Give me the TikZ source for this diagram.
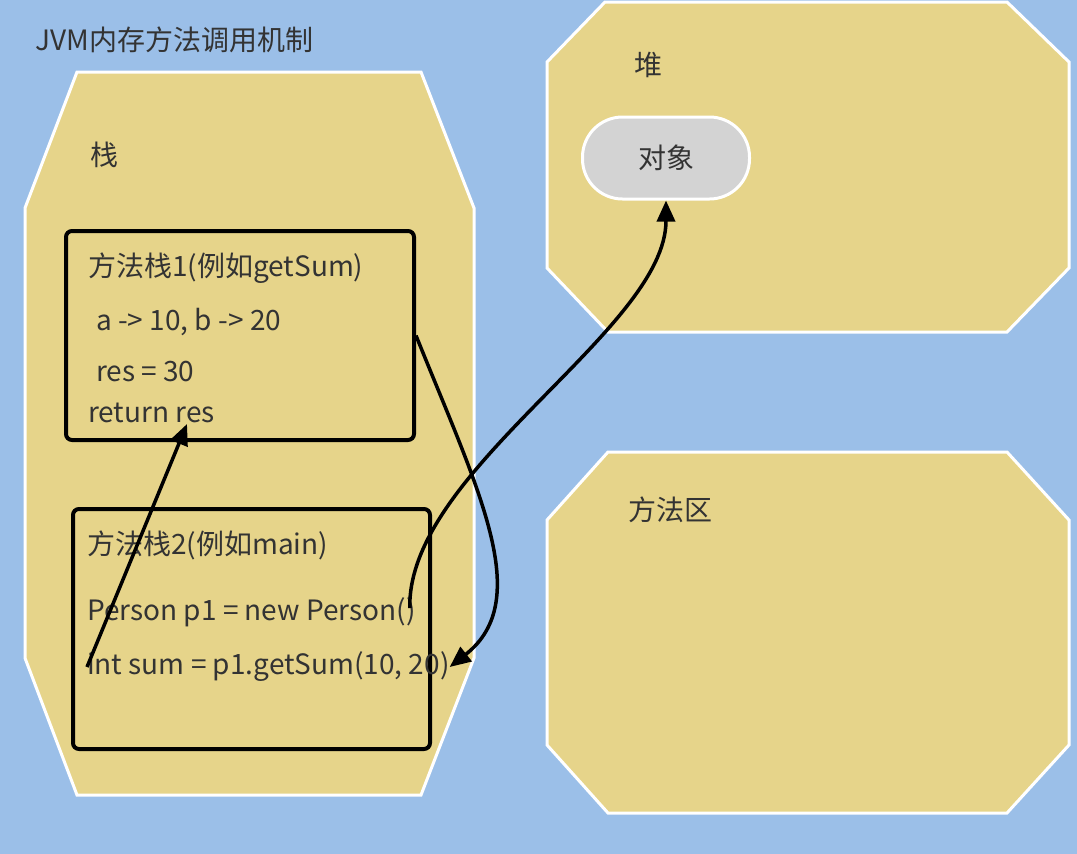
\documentclass[tikz,border=0pt]{standalone}
\usepackage{fontspec}
\newfontfamily\cjk{Noto Sans CJK SC}
\usetikzlibrary{arrows.meta}
\definecolor{bgblue}{RGB}{155,191,232}
\definecolor{areayellow}{RGB}{230,212,138}
\definecolor{objgray}{RGB}{211,211,211}
\definecolor{inkgray}{RGB}{51,51,51}

\begin{document}
\begin{tikzpicture}[x=1pt,y=-1pt,
  area/.style={fill=areayellow,draw=white,line width=3pt,line join=miter},
  frame/.style={draw=black,line width=4pt,rounded corners=6pt,anchor=north west},
  pill/.style={fill=objgray,draw=white,line width=3pt,rounded corners=40pt,
               minimum width=167pt,minimum height=82pt},
  txt/.style={font=\cjk\fontsize{28}{32}\selectfont,text=inkgray,inner sep=0pt,anchor=west},
  call/.style={-{Triangle[length=21pt,width=18pt]},line width=3.5pt}]
% ---------------- background ----------------
\fill[bgblue] (0,0) rectangle (1077,854);
\node[txt] (title) at (35,40) {JVM内存方法调用机制};

% ---------------- memory areas ----------------
\draw[area] (77,72) -- (421,72) -- (474,208) -- (474,658) -- (421,795)
            -- (77,795) -- (25,658) -- (25,208) -- cycle;
\draw[area] (605,2) -- (1007,2) -- (1069,62) -- (1069,268) -- (1007,332)
            -- (608,332) -- (547,268) -- (547,62) -- cycle;
\draw[area] (608,452) -- (1007,452) -- (1069,520) -- (1069,745) -- (1007,813)
            -- (608,813) -- (547,745) -- (547,520) -- cycle;
\node[txt] (stack) at (90,155) {栈};
\node[txt] (heap) at (634,65) {堆};
\node[txt] (marea) at (628,510) {方法区};

% ---------------- heap object ----------------
\node[pill,font=\cjk\fontsize{28}{32}\selectfont,text=inkgray] (obj) at (666,158) {对象};

% ---------------- method frames ----------------
\node[frame,minimum width=348pt,minimum height=209pt] (f1) at (64,229) {};
\node[txt] (m1) at (88,268) {方法栈1(例如getSum)};
\node[txt] (args) at (96,322) {a -> 10, b -> 20};
\node[txt] (res) at (96,372) {res = 30};
\node[txt] (ret) at (88,413) {return res};

\node[frame,minimum width=357pt,minimum height=240pt] (f2) at (71,507) {};
\node[txt] (m2) at (87,545) {方法栈2(例如main)};
\node[txt] (person) at (87,612) {Person p1 = new Person()};
\node[txt] (sum) at (87,667) {int sum = p1.getSum(10, 20)};

% ---------------- calls ----------------
\coordinate (rettip) at (187,424);
\draw[call] (sum.west) -- (rettip);
\draw[call] (f1.east) .. controls (478,490) and (535,600) .. (sum.east);
\draw[call] ([xshift=-6pt,yshift=4pt]person.east) .. controls (407,470) and (666,330) .. (obj.south);
\end{tikzpicture}
\end{document}
